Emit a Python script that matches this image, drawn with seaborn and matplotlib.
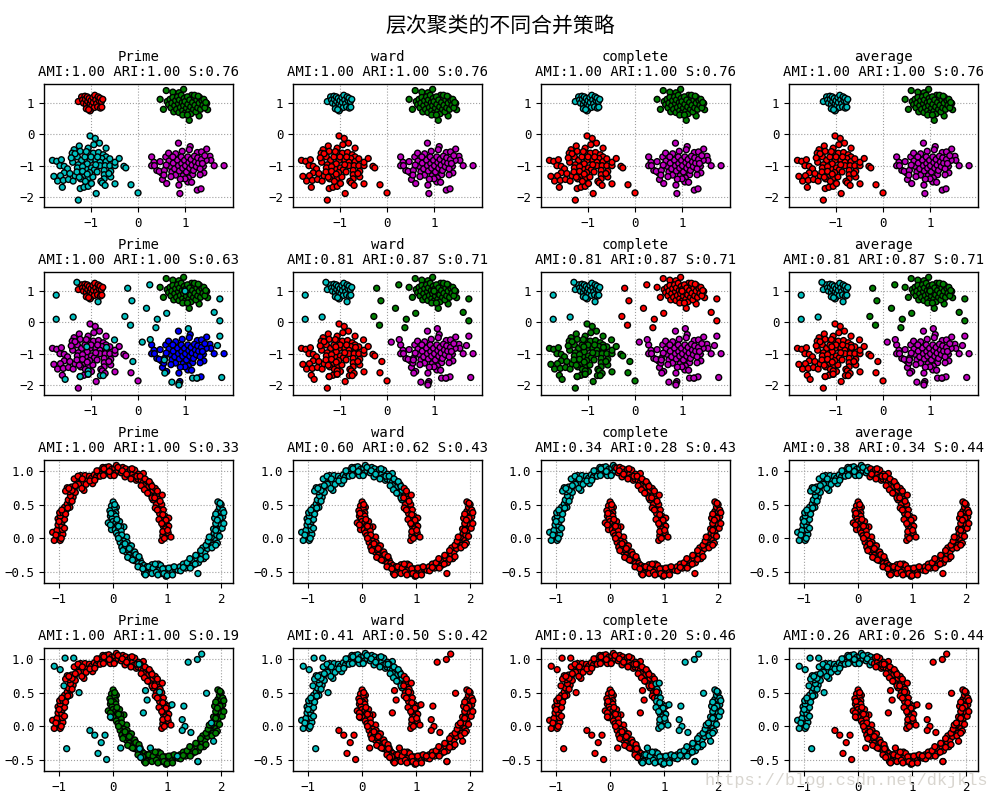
import matplotlib
matplotlib.use("Agg")
import matplotlib.pyplot as plt
import pandas as pd
import seaborn as sns

# ---- blob clusters ----
BLOB_NW = [(-1.27,1.05),(-1.2,1.2),(-1.18,1.1),(-1.16,1.0),(-1.13,1.22),(-1.12,1.12),(-1.1,.95),(-1.08,1.2),
 (-1.07,1.05),(-1.05,.87),(-1.04,1.15),(-1.02,.98),(-1.0,.8),(-1.0,1.08),(-.98,.92),(-.96,1.18),(-.95,1.02),
 (-.93,.86),(-.92,1.25),(-.9,1.1),(-.88,.98),(-.86,.88),(-.85,1.2),(-.83,1.08),(-.81,1.16),(-.8,.84),(-.78,1.05),
 (-.77,.87),(-.75,1.12),(-1.1,.82),(-1.02,.75),(-1.05,.79)]
BLOB_NE = [(.6,1.4),(.47,1.12),(.54,.8),(.74,1.35),(.87,1.33),(.97,1.44),(1.09,.45),(1.3,.59),(1.48,.79),(1.46,.99),
 (1.14,1.25),(.62,1.05),(.65,.95),(.68,1.12),(.7,.85),(.72,1.0),(.74,1.18),(.76,.72),(.78,.92),(.8,1.08),(.82,.8),
 (.84,1.2),(.86,.98),(.87,.7),(.88,1.1),(.9,.86),(.92,1.25),(.94,1.02),(.95,.76),(.97,.92),(.98,1.15),(1.0,.68),
 (1.0,1.05),(1.03,.84),(1.05,1.2),(1.06,.96),(1.08,.74),(1.1,1.1),(1.12,.88),(1.13,.66),(1.16,1.02),(1.18,.8),
 (1.2,1.18),(1.21,.93),(1.23,.72),(1.25,1.1),(1.27,.85),(1.3,1.0),(1.31,1.18),(1.33,.8),(1.36,1.08),(1.38,.93),
 (1.4,1.12),(1.42,.85),(1.44,1.02),(1.2,1.25),(1.28,1.22),(.95,.62),(1.05,.62)]
BLOB_SW = [(-1.82,-.83),(-1.73,-.86),(-1.63,-.81),(-1.66,-1.0),(-1.57,-1.02),(-1.5,-1.1),(-1.57,-1.23),(-1.65,-1.32),
 (-1.79,-1.34),(-1.71,-1.49),(-1.59,-1.47),(-1.61,-1.69),(-1.48,-1.44),(-1.38,-1.49),(-1.34,-1.32),(-1.27,-1.13),
 (-1.39,-.89),(-1.36,-.49),(-1.25,-.37),(-1.23,-.54),(-1.4,-.6),(-1.29,-.72),(-1.2,-.83),(-1.27,-.97),(-1.29,-1.07),
 (-1.09,-1.1),(-1.2,-1.28),(-1.15,-1.36),(-1.06,-1.39),(-.96,-1.36),(-1.23,-1.73),(-1.15,-1.69),(-1.06,-1.66),
 (-.99,-1.57),(-1.27,-2.1),(-.89,-1.89),(-1.02,-.05),(-.91,-.13),(-.82,-.28),(-.94,-.33),(-1.06,-.44),(-1.04,-.6),
 (-.95,-.6),(-.84,-.58),(-.68,-.44),(-.74,-.65),(-.68,-.72),(-.77,-.77),(-.91,-.81),(-1.02,-.83),(-1.08,-.94),
 (-.81,-.89),(-.68,-.87),(-.99,-1.07),(-.93,-1.13),(-.81,-1.0),(-.7,-1.0),(-.6,-1.0),(-.49,-1.0),(-.49,-.89),
 (-.4,-.77),(-.3,-1.02),(-.26,-1.07),(-.58,-1.18),(-.58,-1.36),(-.72,-1.15),(-.72,-1.29),(-.72,-1.42),(-.79,-1.5),
 (-.76,-1.55),(-.7,-1.63),(-.49,-1.58),(-.15,-1.61),(0.0,-1.87),(-1.18,-1.03),(-1.13,-.72),(-1.34,-.62),
 (-1.22,-1.42),(-1.12,-1.5),(-1.03,-1.22),(-1.3,-1.2),(-1.18,-1.18),(-.9,-.97),(-.6,-.78),(-.86,-.72),(-1.1,-.55),
 (-1.42,-.75),(-1.45,-1.25),(-.87,-1.2),(-.62,-1.25),(-1.0,-.72),(-1.25,-1.37),(-1.08,-1.27)]
BLOB_SE = [(.29,-.72),(.34,-.89),(.29,-1.0),(.4,-1.15),(.47,-.87),(.5,-1.23),(.52,-1.44),(.61,-1.57),(.59,-.72),
 (.65,-.6),(.8,-.62),(.86,-.28),(.94,-.54),(1.11,-.39),(1.09,-.49),(1.46,-.47),(1.26,-.58),(1.35,-.56),(1.53,-.7),
 (1.55,-.83),(1.45,-.83),(1.62,-1.0),(1.83,-1.0),(1.39,-1.02),(1.4,-1.23),(1.32,-1.29),(1.16,-1.29),(1.07,-1.39),
 (1.06,-1.52),(1.14,-1.53),(.87,-1.62),(.89,-1.89),(1.26,-1.78),(1.34,-1.74),(.35,-1.0),(.45,-1.18),(.56,-1.15),
 (.66,-.85),(.68,-1.02),(.72,-1.2),(.75,-.92),(.78,-1.1),(.8,-1.3),(.84,-.82),(.86,-1.0),(.88,-1.17),(.92,-.72),
 (.93,-.93),(.95,-1.08),(.96,-1.32),(.99,-.83),(1.01,-1.0),(1.03,-1.2),(1.06,-.72),(1.08,-.9),(1.1,-1.08),
 (1.13,-.8),(1.15,-.98),(1.18,-1.15),(1.2,-.7),(1.22,-.88),(1.24,-1.03),(1.27,-.75),(1.29,-.92),(1.32,-1.1),
 (1.35,-.8),(1.37,-.93),(1.42,-.68),(.7,-1.35),(.6,-.98),(.74,-.72),(1.0,-1.42),(.55,-1.3),(.9,-1.43)]

# ---- extra scattered points of the second row, by the cluster they join ----
NOISE_NW = [(-1.74,.87),(-1.74,.1),(-1.38,.17),(-1.3,1.28),(-.85,.66)]
NOISE_NE = [(-.22,1.09),(-.13,.69),(-.28,.19),(-.16,-.09),(.25,1.2),(.18,.45),(.41,.1),(.38,-.17),(.61,.29),
 (1.62,.32),(1.74,.75),(1.74,.05),(1.0,1.0)]
NOISE_SW = [(-.5,-.56),(-.11,-1.25),(-.67,-.8),(-1.09,-.78),(-1.06,-1.55),(-1.06,-1.65),(-1.23,-1.73),(-.8,-1.7),
 (-.74,-1.7),(-1.55,-1.82)]
NOISE_SE = [(1.07,-.2),(1.74,-.44),(1.69,-.74),(1.78,-1.76),(.26,-.55),(.09,-.63),(.57,-1.62),(.72,-1.91),(.87,-1.95),
 (.87,-2.0),(1.16,-1.78),(1.25,-1.78),(.56,-1.2)]

# ---- moons ----
MOON_UP = [(-1.12,.09),(-1.09,-.03),(-1.04,.12),(-.98,-.03),(-1.0,.03),(-.93,.06),(-.94,.13),(-1.02,.2),(-.95,.19),
 (-.94,.25),(-.9,.28),(-1.02,.29),(-.98,.33),(-.99,.38),(-.93,.38),(-.86,.43),(-.9,.46),(-.8,.46),(-.85,.51),(-.79,.54),
 (-.83,.57),(-.74,.61),(-.79,.63),(-.85,.75),(-.77,.76),(-.81,.69),(-.72,.74),(-.7,.68),(-.76,.71),(-.67,.86),(-.62,.9),
 (-.6,.93),(-.54,.71),(-.56,.81),(-.64,.8),(-.48,.87),(-.52,.93),(-.44,.92),(-.38,.81),(-.4,.89),(-.35,.94),(-.31,.91),
 (-.28,.97),(-.25,1.0),(-.22,.95),(-.19,1.05),(-.15,.97),(-.13,1.05),(-.1,1.0),(-.08,1.06),(-.05,.93),(-.03,1.02),(0.0,.98),
 (.03,1.04),(.06,1.08),(.05,.97),(.09,1.0),(.12,1.04),(.15,.97),(.18,1.05),(.22,.91),(.23,1.03),(.27,.98),(.32,1.02),
 (.3,.93),(.36,.95),(.4,1.01),(.38,.9),(.43,.86),(.46,.88),(.47,.95),(.52,.86),(.56,.96),(.56,.83),(.6,.8),(.63,.85),
 (.62,.71),(.66,.77),(.7,.8),(.68,.66),(.74,.71),(.78,.74),(.8,.64),(.74,.57),(.85,.63),(.91,.64),(.83,.58),(.85,.52),
 (.8,.5),(.9,.5),(.88,.42),(.93,.42),(.86,.37),(.96,.33),(.9,.3),(1.03,.3),(.95,.24),(1.0,.2),(1.03,.18),(.93,.18),
 (.99,.11),(.96,.06),(1.02,.08),(.9,-.03),(.92,.04),(1.07,.02),
 (-1.06,.05),(-.96,0.0),(-.9,.15),(-1.0,.25),(-.88,.36),(-.95,.42),(-.84,.45),(-.76,.55),(-.88,.7),(-.82,.74),(-.7,.78),
 (-.72,.88),(-.65,.92),(-.58,.74),(-.5,.8),(-.57,.88),(-.43,.85),(-.34,.86),(-.3,1.0),(-.24,.92),(-.18,.93),(-.17,1.03),
 (-.07,.99),(.02,.93),(.09,1.05),(.17,1.0),(.25,.95),(.35,1.03),(.33,.88),(.44,.92),(.5,.92),(.52,.78),(.59,.88),(.58,.72),
 (.67,.84),(.64,.67),(.72,.77),(.72,.6),(.82,.7),(.77,.6),(.78,.45),(.87,.55),(.82,.42),(.92,.35),(.85,.28),(.98,.27),
 (.9,.22),(.97,.14),(.92,.1),(1.01,.12),(.95,0.0)]
MOON_LOW = [(0.0,.54),(-.03,.48),(.06,.46),(.02,.44),(-.06,.41),(.05,.38),(.01,.36),(.05,.33),(-.05,.33),(-.02,.29),
 (-.09,.23),(0.0,.25),(.05,.23),(.12,.25),(.08,.19),(.2,.17),(.14,.17),(-.03,.13),(.04,.13),(.1,.12),(.15,.11),(.06,.08),
 (.09,.04),(.12,-.01),(.17,.03),(.25,.02),(.2,-.04),(.13,-.06),(.19,-.09),(.26,-.06),(.16,-.13),(.22,-.14),(.31,-.11),
 (.34,-.11),(.24,-.2),(.28,-.17),(.36,-.2),(.3,-.25),(.38,-.26),(.4,-.2),(.33,-.3),(.43,-.3),(.4,-.33),(.5,-.32),(.47,-.37),
 (.53,-.37),(.57,-.4),(.5,-.42),(.6,-.47),(.58,-.52),(.63,-.42),(.66,-.5),(.72,-.39),(.7,-.45),(.76,-.48),(.62,-.52),
 (.8,-.42),(.84,-.38),(.86,-.46),(.9,-.52),(.88,-.4),(.96,-.45),(.98,-.56),(1.0,-.47),(1.04,-.52),(1.07,-.44),(1.1,-.49),
 (1.15,-.45),(1.2,-.47),(1.24,-.42),(1.3,-.38),(1.34,-.44),(1.4,-.4),(1.47,-.4),(1.5,-.33),(1.46,-.32),(1.55,-.3),
 (1.58,-.36),(1.6,-.25),(1.57,-.52),(1.65,-.23),(1.68,-.3),(1.7,-.2),(1.66,-.14),(1.75,-.15),(1.78,-.08),(1.72,-.1),
 (1.8,-.05),(1.85,-.1),(1.88,0.0),(1.82,.02),(1.93,-.07),(1.87,.08),(1.92,.05),(1.95,.12),(1.86,.14),(1.92,.16),(1.98,.18),
 (1.95,.22),(2.0,.2),(1.88,.3),(1.95,.33),(2.03,.32),(1.98,.3),(1.94,.4),(2.0,.4),(1.97,.46),(1.94,.54),(2.0,.5),(2.03,.42),
 (.03,.5),(-.04,.37),(.07,.28),(-.05,.2),(.1,.18),(.16,.05),(.22,-.08),(.1,0.0),(.3,-.15),(.18,-.18),(.27,-.28),(.42,-.24),
 (.36,-.32),(.48,-.27),(.46,-.42),(.55,-.45),(.66,-.42),(.6,-.54),(.74,-.44),(.72,-.52),(.8,-.5),(.83,-.54),(.78,-.38),
 (.92,-.45),(.94,-.52),(1.0,-.55),(1.03,-.44),(1.1,-.54),(1.13,-.42),(1.25,-.48),(1.3,-.43),(1.37,-.36),(1.43,-.44),
 (1.42,-.3),(1.53,-.25),(1.52,-.38),(1.62,-.31),(1.72,-.27),(1.62,-.18),(1.76,-.04),(1.83,-.14),(1.9,-.1),(1.78,.02),
 (1.97,.03),(1.9,.12),(2.02,.15),(1.9,.22),(1.93,.27),(2.05,.22),(1.9,.36),(2.05,.38),(1.98,.52)]
MOON_NOISE_LEFT = [(-1.09,.89),(-.98,.84),(-.89,1.01),(-.73,1.01),(-.91,.6),(-.63,.5),(-.86,-.33)]
MOON_NOISE_TOP = [(.48,.92)]
MOON_NOISE_MID = [(-.43,-.06),(-.34,-.13),(-.22,-.24),(-.15,-.13),(-.28,-.4),(-.12,-.49),(-.05,.14),(.14,-.32),(.6,.53),
 (.63,.39),(.56,.2),(.86,.51),(.49,-.33),(.51,-.46)]
MOON_NOISE_RIGHT = [(1.09,.32),(1.31,.3),(1.28,.1),(1.33,0.0),(1.28,-.06),(1.44,-.09),(1.39,.95),(1.56,.99),(1.64,1.07),
 (1.73,.49),(1.82,.05),(1.86,-.22),(1.57,-.52),(.69,-.32),(1.19,-.44)]

# ---- panel texts ----
METHODS = ["Prime", "ward", "complete", "average"]
SCORES = [
    ["AMI:1.00 ARI:1.00 S:0.76"] * 4,
    ["AMI:1.00 ARI:1.00 S:0.63", "AMI:0.81 ARI:0.87 S:0.71", "AMI:0.81 ARI:0.87 S:0.71", "AMI:0.81 ARI:0.87 S:0.71"],
    ["AMI:1.00 ARI:1.00 S:0.33", "AMI:0.60 ARI:0.62 S:0.43", "AMI:0.34 ARI:0.28 S:0.43", "AMI:0.38 ARI:0.34 S:0.44"],
    ["AMI:1.00 ARI:1.00 S:0.19", "AMI:0.41 ARI:0.50 S:0.42", "AMI:0.13 ARI:0.20 S:0.46", "AMI:0.26 ARI:0.26 S:0.44"],
]
SUPTITLE = "层次聚类的不同合并策略"
WATERMARK = "https://blog.csdn.net/dkjkls"

# ---- cluster colours per panel ----
PALETTE = {"r": "#ff0000", "g": "#008000", "b": "#0000ff", "c": "#00bfbf", "m": "#bf00bf"}
ROW1_COLORS = [dict(nw="r", ne="g", sw="c", se="m"), dict(nw="c", ne="g", sw="r", se="m"),
               dict(nw="c", ne="g", sw="r", se="m"), dict(nw="c", ne="g", sw="r", se="m")]
ROW2_COLORS = [dict(nw="r", ne="g", sw="m", se="b"), dict(nw="c", ne="g", sw="r", se="m"),
               dict(nw="c", ne="r", sw="g", se="m"), dict(nw="c", ne="g", sw="r", se="m")]
# upper moon: colour left of the split / right of the split
ROW3_SPLIT = [(1.5, "r", "r", "c", 9.0, "c"), (.75, "c", "r", "r", 9.0, "r"), (.1, "c", "r", "r", 9.0, "r"), (.2, "c", "r", "r", 9.0, "r")]
ROW4_SPLIT = [(1.5, "r", "r", "g", 9.0, "g"), (.75, "c", "r", "r", 9.0, "r"), (.85, "r", "c", "r", .58, "c"), (.3, "c", "r", "r", 9.0, "r")]
ROW4_NOISE = [dict(left="c", top="c", mid="c", right="c"), dict(left="c", top="c", mid="r", right="r"),
              dict(left="r", top="r", mid="r", right="c"), dict(left="c", top="r", mid="r", right="r")]


def frame(parts):
    rows = [(x, y, lab) for pts, lab in parts for x, y in pts]
    return pd.DataFrame(rows, columns=["x", "y", "label"])


def blobs(colors, noise=None):
    parts = [(BLOB_NW, colors["nw"]), (BLOB_NE, colors["ne"]), (BLOB_SW, colors["sw"]), (BLOB_SE, colors["se"])]
    if noise:
        parts += [(NOISE_NW, noise["nw"]), (NOISE_NE, noise["ne"]), (NOISE_SW, noise["sw"]), (NOISE_SE, noise["se"])]
    return frame(parts)


def moons(rule):
    cut, left, right, low_left, low_cut, low_right = rule
    return frame([([p for p in MOON_UP if p[0] < cut], left), ([p for p in MOON_UP if p[0] >= cut], right),
                  ([p for p in MOON_LOW if p[0] < low_cut], low_left), ([p for p in MOON_LOW if p[0] >= low_cut], low_right)])


sns.set_theme(style="ticks", rc={"axes.edgecolor": "black", "xtick.color": "black", "ytick.color": "black",
                                 "text.color": "black", "axes.linewidth": 1.0, "xtick.major.size": 3.5,
                                 "ytick.major.size": 3.5, "xtick.major.width": 0.8, "ytick.major.width": 0.8,
                                 "axes.unicode_minus": True})
plt.rcParams["font.family"] = ["DejaVu Sans Mono", "Noto Sans CJK SC"]

fig, axes = plt.subplots(4, 4, figsize=(10, 8), dpi=100)

LEFTS = [44, 293, 541, 789]
TOPS = [84, 272, 460, 648]
for r in range(4):
    for c in range(4):
        ax = axes[r][c]
        ax.set_position([LEFTS[c] / 1000, 1 - (TOPS[r] + 123) / 800, 189 / 1000, 123 / 800])
        if r == 0:
            df = blobs(ROW1_COLORS[c])
        elif r == 1:
            noise = dict(nw="c", ne="c", sw="c", se="c") if c == 0 else ROW2_COLORS[c]
            df = blobs(ROW2_COLORS[c], noise)
        elif r == 2:
            df = moons(ROW3_SPLIT[c])
        else:
            n = ROW4_NOISE[c]
            df = pd.concat([moons(ROW4_SPLIT[c]),
                            frame([(MOON_NOISE_LEFT, n["left"]), (MOON_NOISE_TOP, n["top"]),
                                   (MOON_NOISE_MID, n["mid"]), (MOON_NOISE_RIGHT, n["right"])])], ignore_index=True)
        sns.scatterplot(data=df, x="x", y="y", hue="label", palette=PALETTE, s=18, edgecolor="black",
                        linewidth=1.0, legend=False, ax=ax, zorder=3)
        ax.set(xlabel="", ylabel="")
        if r < 2:
            ax.set_xlim(-2.0, 2.02)
            ax.set_ylim(-2.32, 1.61)
            ax.set_xticks([-1, 0, 1])
            ax.set_yticks([-2, -1, 0, 1])
        else:
            ax.set_xlim(-1.28, 2.22)
            ax.set_ylim(-0.66, 1.16)
            ax.set_xticks([-1, 0, 1, 2])
            ax.set_yticks([-0.5, 0, 0.5, 1.0])
        ax.tick_params(labelsize=9, pad=3.5)
        ax.grid(True, linestyle=":", linewidth=0.8, color="#a0a0a0")
        ax.set_axisbelow(True)
        ax.set_title(METHODS[c] + "\n" + SCORES[r][c], fontsize=10, pad=5.5, linespacing=1.12)

fig.text(.5, 1 - 26 / 800, SUPTITLE, ha="center", va="center", fontsize=15, family=["Noto Sans CJK SC", "DejaVu Sans"])
fig.text(.988, 1 - 781 / 800, WATERMARK, ha="right", va="center", fontsize=12.2, family="Liberation Mono", color="#d8d5cf")
fig.savefig("out.png", dpi=100)
